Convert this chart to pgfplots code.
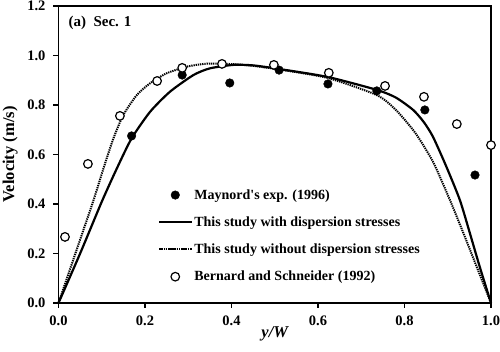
\documentclass[border=0pt]{standalone}
\usepackage{fontspec}
\setmainfont{Liberation Serif}
\usepackage{pgfplots}
\pgfplotsset{compat=1.18}
\begin{document}
\begin{tikzpicture}
\begin{axis}[
  scale only axis, width=432.5pt, height=297pt,
  xmin=0, xmax=1, ymin=0, ymax=1.2,
  xtick={0,0.2,0.4,0.6,0.8,1.0}, ytick={0,0.2,0.4,0.6,0.8,1.0,1.2},
  tick align=outside, tick pos=left, major tick length=5pt,
  axis line style={line width=1.6pt}, every tick/.style={line width=1.4pt, black},
  /pgf/number format/assume math mode=true,
  /pgf/number format/fixed, /pgf/number format/fixed zerofill, /pgf/number format/precision=1,
  ticklabel style={font=\bfseries\fontsize{14.5}{16}\selectfont},
  xticklabel style={yshift=-4pt}, yticklabel style={xshift=-4.5pt},
  xlabel={\bfseries\itshape y/W}, ylabel={\bfseries Velocity (m/s)},
  label style={font=\bfseries\fontsize{16.5}{18}\selectfont},
  xlabel style={at={(axis description cs:0.5,-0.104)}, anchor=center},
  ylabel style={at={(axis description cs:-0.112,0.5)}, anchor=center},
  clip=false,
  legend cell align=left,
  legend style={at={(0.230,0.383)}, anchor=north west, draw=none, fill=none,
    font=\bfseries\fontsize{14}{16}\selectfont, row sep=16pt, inner sep=0pt,
    nodes={inner xsep=2pt, inner ysep=0pt}},
  legend image code/.code={\draw[mark repeat=2,mark phase=2,#1] plot coordinates {(0pt,0pt) (16pt,0pt) (32pt,0pt)};},
]
\coordinate (sw) at (rel axis cs:0,0);
\coordinate (ne) at (rel axis cs:1,1);
\addplot[only marks, mark=*, mark size=4.3pt, black] coordinates {
(0.169,0.675) (0.286,0.921) (0.396,0.889) (0.51,0.941) (0.623,0.885) (0.736,0.857) (0.847,0.78) (0.963,0.517)};
\addlegendentry{Maynord\textquotesingle s exp. (1996)}
\addplot[black, line width=2.2pt, smooth, tension=0.4] coordinates {
(0,0) (0.05,0.2) (0.1,0.409) (0.135,0.544) (0.169,0.665) (0.212,0.773) (0.258,0.854) (0.312,0.921) (0.35,0.948) (0.404,0.962) (0.45,0.96) (0.512,0.945) (0.623,0.913) (0.736,0.861) (0.78,0.83) (0.82,0.78) (0.845,0.73) (0.866,0.671) (0.897,0.55) (0.928,0.416) (0.951,0.283) (0.974,0.146) (1,0)};
\addlegendentry{This study with dispersion stresses}
\addplot[black, line width=2pt, dash pattern=on 1.3pt off 0.9pt, smooth, tension=0.4] coordinates {
(0,0) (0.04,0.205) (0.08,0.41) (0.104,0.544) (0.127,0.665) (0.15,0.76) (0.181,0.84) (0.212,0.888) (0.25,0.928) (0.297,0.955) (0.343,0.967) (0.404,0.965) (0.45,0.958) (0.512,0.943) (0.623,0.909) (0.736,0.84) (0.78,0.78) (0.825,0.687) (0.866,0.57) (0.905,0.416) (0.936,0.283) (0.967,0.146) (1,0)};
\addlegendentry{This study without dispersion stresses}
\addplot[only marks, mark=*, mark size=4.3pt, mark options={fill=white, draw=black, line width=1.2pt}] coordinates {
(0.015,0.267) (0.068,0.562) (0.142,0.756) (0.228,0.897) (0.286,0.95) (0.378,0.966) (0.498,0.962) (0.625,0.93) (0.755,0.877) (0.845,0.833) (0.921,0.723) (1.0,0.638)};
\addlegendentry{Bernard and Schneider (1992)}
\node[anchor=west, font=\bfseries\fontsize{15}{17}\selectfont] at (rel axis cs:0.015,0.943) {(a)\ \ Sec. 1};
\end{axis}
\pgfresetboundingbox
\useasboundingbox ([xshift=-58.5pt,yshift=-49pt]sw) rectangle ([xshift=9pt,yshift=6pt]ne);
\end{tikzpicture}
\end{document}
